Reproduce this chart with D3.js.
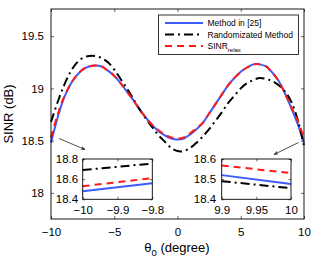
<!DOCTYPE html>
<html>
<head>
<meta charset="utf-8">
<script src="https://cdn.jsdelivr.net/npm/d3@7"></script>
<style>
  body { margin: 0; background: #fff; }
  svg { display: block; font-family: "Liberation Sans", Arial, sans-serif; }
</style>
</head>
<body>
<svg width="316" height="262"></svg>
<script>
// data
var theta = [-10, -9.5, -9, -8.5, -8, -7.5, -7, -6.5, -6, -5.5, -5, -4.5, -4, -3.5, -3, -2.5, -2, -1.5, -1, -0.5,
    0, 0.5, 1, 1.5, 2, 2.5, 3, 3.5, 4, 4.5, 5, 5.5, 6, 6.5, 7, 7.5, 8, 8.5, 9, 9.5, 10];
var methodVals = [18.48, 18.71, 18.90, 19.03, 19.12, 19.18, 19.21, 19.22, 19.21, 19.17, 19.12, 19.05, 18.97, 18.89, 18.80, 18.72, 18.65, 18.59, 18.55, 18.52,
    18.51, 18.52, 18.56, 18.61, 18.67, 18.76, 18.85, 18.94, 19.03, 19.10, 19.16, 19.20, 19.23, 19.23, 19.21, 19.15, 19.07, 18.95, 18.81, 18.66, 18.48];
var relaxVals = [18.53, 18.74, 18.91, 19.03, 19.12, 19.18, 19.21, 19.22, 19.21, 19.17, 19.12, 19.05, 18.97, 18.89, 18.80, 18.72, 18.65, 18.60, 18.56, 18.53,
    18.52, 18.53, 18.57, 18.62, 18.67, 18.76, 18.85, 18.94, 19.03, 19.10, 19.16, 19.20, 19.23, 19.23, 19.21, 19.15, 19.07, 18.95, 18.82, 18.69, 18.53];
var randomVals = [18.68, 18.86, 19.02, 19.15, 19.24, 19.29, 19.31, 19.31, 19.29, 19.25, 19.18, 19.09, 19.00, 18.90, 18.80, 18.71, 18.63, 18.55, 18.49, 18.43,
    18.40, 18.40, 18.43, 18.48, 18.54, 18.61, 18.69, 18.77, 18.86, 18.93, 19.00, 19.05, 19.08, 19.10, 19.09, 19.07, 19.03, 18.97, 18.87, 18.70, 18.45];

// zoomed insets
var leftTheta = [-10, -9.8];
var leftMethod = [18.48, 18.56];
var leftRelax = [18.53, 18.61];
var leftRandom = [18.69, 18.755];
var rightTheta = [9.9, 10];
var rightMethod = [18.52, 18.476];
var rightRelax = [18.568, 18.53];
var rightRandom = [18.49, 18.455];

var xTicks = [-10, -5, 0, 5, 10];
var yTicks = [18, 18.5, 19, 19.5];
var leftXTicks = [-10, -9.9, -9.8], leftYTicks = [18.4, 18.6, 18.8];
var rightXTicks = [9.9, 9.95, 10], rightYTicks = [18.4, 18.5, 18.6];
var legendNames = ['Method in [25]', 'Randomizated Method', 'SINR'];

var svg = d3.select('svg');
var fmt = function(d) { return String(d).replace('-', '\u2212'); };

var styles = [
    { color: '#3b5bff', dash: null },
    { color: '#000', dash: '9,4,2,4' },
    { color: '#ff1a1a', dash: '7,5' }
];

// draws one framed axes box with inward ticks on all sides
function drawPanel(opt) {
    var x = d3.scaleLinear().domain(opt.xDomain).range([opt.x0, opt.x1]);
    var y = d3.scaleLinear().domain(opt.yDomain).range([opt.y1, opt.y0]);
    var g = svg.append('g');
    if (opt.fill) {
        g.append('rect').attr('x', opt.x0).attr('y', opt.y0)
            .attr('width', opt.x1 - opt.x0).attr('height', opt.y1 - opt.y0)
            .attr('fill', '#fff');
    }
    var line = d3.line().x(function(d) { return x(d[0]); }).y(function(d) { return y(d[1]); })
        .curve(d3.curveCatmullRom);
    opt.series.forEach(function(s) {
        var pts = opt.xs.map(function(t, i) { return [t, s.vals[i]]; });
        g.append('path').datum(pts)
            .attr('d', line)
            .attr('fill', 'none')
            .attr('stroke', s.style.color)
            .attr('stroke-width', 2)
            .attr('stroke-dasharray', s.style.dash);
    });

    var tk = opt.tick;
    var bottom = g.append('g').attr('transform', 'translate(0,' + opt.y1 + ')')
        .call(d3.axisBottom(x).tickValues(opt.xTicks).tickFormat(fmt).tickSize(-tk).tickPadding(opt.xPad));
    var top = g.append('g').attr('transform', 'translate(0,' + opt.y0 + ')')
        .call(d3.axisTop(x).tickValues(opt.xTicks).tickFormat('').tickSize(-tk));
    var left = g.append('g').attr('transform', 'translate(' + opt.x0 + ',0)')
        .call(d3.axisLeft(y).tickValues(opt.yTicks).tickFormat(fmt).tickSize(-tk).tickPadding(opt.yPad));
    var right = g.append('g').attr('transform', 'translate(' + opt.x1 + ',0)')
        .call(d3.axisRight(y).tickValues(opt.yTicks).tickFormat('').tickSize(-tk));
    [bottom, top, left, right].forEach(function(a) {
        a.select('.domain').remove();
        a.selectAll('line').attr('stroke', '#000').attr('stroke-width', 0.6);
        a.selectAll('text').attr('font-size', '11.5px').attr('fill', '#000')
            .attr('font-family', '"Liberation Sans", Arial, sans-serif');
    });
    g.append('rect').attr('x', opt.x0).attr('y', opt.y0)
        .attr('width', opt.x1 - opt.x0).attr('height', opt.y1 - opt.y0)
        .attr('fill', 'none').attr('stroke', '#000').attr('stroke-width', 0.9);
    return g;
}

// main axes
drawPanel({
    x0: 51, x1: 304, y0: 9, y1: 219,
    xDomain: [-10, 10], yDomain: [17.75, 19.76],
    xTicks: xTicks, yTicks: yTicks, tick: 3, xPad: 9, yPad: 7,
    xs: theta,
    series: [
        { vals: methodVals, style: styles[0] },
        { vals: randomVals, style: styles[1] },
        { vals: relaxVals, style: styles[2] }
    ]
});

// axis labels
svg.append('text')
    .attr('transform', 'translate(13,114) rotate(-90)')
    .attr('text-anchor', 'middle')
    .attr('font-size', '13px')
    .text('SINR (dB)');
var xl = svg.append('text').attr('x', 177).attr('y', 252)
    .attr('text-anchor', 'middle').attr('font-size', '13px');
xl.append('tspan').text('\u03b8');
xl.append('tspan').attr('font-size', '9.5px').attr('dy', 4).text('0');
xl.append('tspan').attr('dy', -4).text(' (degree)');

// legend
var lg = svg.append('g');
lg.append('rect').attr('x', 158.5).attr('y', 15).attr('width', 140).attr('height', 39.5)
    .attr('fill', '#fff').attr('stroke', '#000').attr('stroke-width', 0.8);
var legRows = [
    { name: legendNames[0], style: styles[0], y: 23 },
    { name: legendNames[1], style: styles[1], y: 34.5 },
    { name: legendNames[2], style: styles[2], y: 46 }
];
legRows.forEach(function(r, i) {
    lg.append('line').attr('x1', 165).attr('x2', 203).attr('y1', r.y).attr('y2', r.y)
        .attr('stroke', r.style.color).attr('stroke-width', 2)
        .attr('stroke-dasharray', r.style.dash);
    var t = lg.append('text').attr('x', 207.5).attr('y', r.y + 3).attr('font-size', '8.5px');
    t.append('tspan').text(r.name);
    if (i === 2) {
        t.append('tspan').attr('font-size', '6px').attr('dy', 3).text('relax');
    }
});

// insets
drawPanel({
    x0: 82.7, x1: 152.3, y0: 159, y1: 199.3,
    xDomain: [-10, -9.8], yDomain: [18.4, 18.8],
    xTicks: leftXTicks, yTicks: leftYTicks, tick: 2.5, xPad: 6.5, yPad: 4.5, fill: true,
    xs: leftTheta,
    series: [
        { vals: leftMethod, style: styles[0] },
        { vals: leftRandom, style: styles[1] },
        { vals: leftRelax, style: styles[2] }
    ]
});
drawPanel({
    x0: 221.7, x1: 291, y0: 159, y1: 199.3,
    xDomain: [9.9, 10], yDomain: [18.4, 18.6],
    xTicks: rightXTicks, yTicks: rightYTicks, tick: 2.5, xPad: 6.5, yPad: 5.5, fill: true,
    xs: rightTheta,
    series: [
        { vals: rightMethod, style: styles[0] },
        { vals: rightRandom, style: styles[1] },
        { vals: rightRelax, style: styles[2] }
    ]
});

// arrows pointing at the zoomed spots
svg.append('defs').append('marker')
    .attr('id', 'ah').attr('viewBox', '0 0 10 10').attr('refX', 9).attr('refY', 5)
    .attr('markerWidth', 6).attr('markerHeight', 6).attr('orient', 'auto')
    .append('path').attr('d', 'M0,1 L10,5 L0,9 L3,5 Z').attr('fill', '#222');
svg.append('line').attr('x1', 59).attr('y1', 138.5).attr('x2', 85).attr('y2', 149.5)
    .attr('stroke', '#222').attr('stroke-width', 0.8).attr('marker-end', 'url(#ah)');
svg.append('line').attr('x1', 298.5).attr('y1', 142.5).attr('x2', 274).attr('y2', 154.5)
    .attr('stroke', '#222').attr('stroke-width', 0.8).attr('marker-end', 'url(#ah)');
</script>
</body>
</html>
